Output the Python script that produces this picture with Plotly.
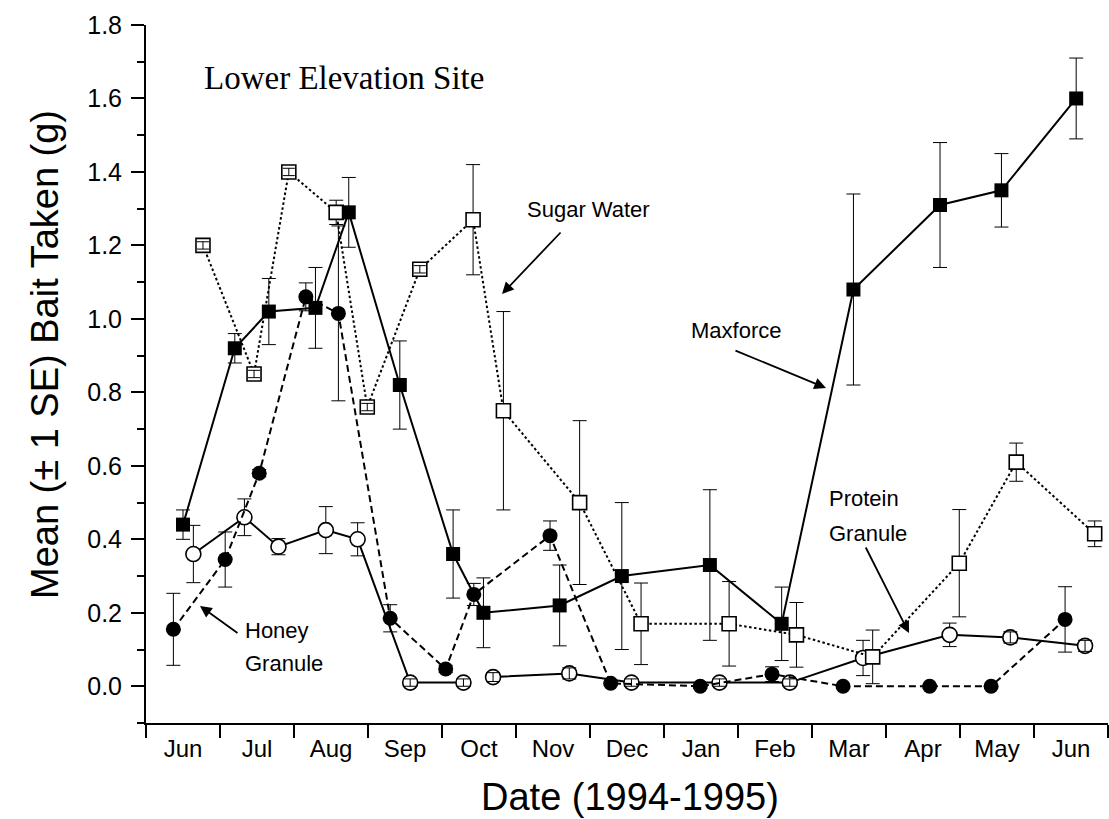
import plotly.graph_objects as go

# ---------------- data (x = months elapsed since 1 June 1994) ----------------
months = ["Jun", "Jul", "Aug", "Sep", "Oct", "Nov", "Dec", "Jan", "Feb", "Mar", "Apr", "May", "Jun"]

maxforce_x = [0.50, 1.20, 1.66, 2.29, 2.74, 3.43, 4.15, 4.56, 5.59, 6.43, 7.62, 8.59, 9.56, 10.73, 11.56, 12.57]
maxforce_y = [0.44, 0.92, 1.02, 1.03, 1.29, 0.82, 0.36, 0.20, 0.22, 0.30, 0.33, 0.17, 1.08, 1.31, 1.35, 1.60]
maxforce_se = [0.04, 0.04, 0.09, 0.11, 0.095, 0.12, 0.12, 0.095, 0.11, 0.20, 0.205, 0.10, 0.26, 0.17, 0.10, 0.11]

sugar_x = [0.77, 1.46, 1.93, 2.57, 2.99, 3.70, 4.42, 4.83, 5.86, 6.69, 7.88, 8.79, 9.82, 10.99, 11.76, 12.82]
sugar_y = [1.20, 0.85, 1.40, 1.29, 0.76, 1.135, 1.27, 0.75, 0.50, 0.17, 0.17, 0.14, 0.08, 0.335, 0.61, 0.415]
sugar_se = [0.01, 0.01, 0.01, 0.033, 0.01, 0.01, 0.15, 0.27, 0.223, 0.111, 0.115, 0.088, 0.073, 0.146, 0.052, 0.035]

honey_x = [0.37, 1.07, 1.53, 2.16, 2.60, 3.30, 4.05, 4.43, 5.46, 6.28, 7.49, 8.46, 9.42, 10.59, 11.42, 12.42]
honey_y = [0.155, 0.345, 0.58, 1.06, 1.015, 0.185, 0.047, 0.25, 0.41, 0.008, 0.0, 0.033, 0.0, 0.0, 0.0, 0.182]
honey_se = [0.098, 0.075, 0.01, 0.038, 0.238, 0.037, 0.01, 0.03, 0.04, 0.005, 0.005, 0.02, 0.005, 0.005, 0.005, 0.089]

protein_x = [0.64, 1.33, 1.79, 2.43, 2.86, 3.57, 4.29, 4.69, 5.72, 6.56, 7.75, 8.70, 9.69, 10.86, 11.68, 12.69]
protein_y = [0.36, 0.46, 0.38, 0.425, 0.40, 0.01, 0.01, 0.025, 0.035, 0.01, 0.01, 0.01, 0.077, 0.14, 0.133, 0.11]
protein_se = [0.078, 0.05, 0.022, 0.064, 0.045, 0.01, 0.01, 0.012, 0.015, 0.01, 0.01, 0.01, 0.048, 0.032, 0.015, 0.015]
protein_break = 7  # the protein-granule line is interrupted before this sample

# ---------------- layout geometry ----------------
W, H = 1109, 819
ML, MR, MT, MB = 146, 1, 25, 96
X0, X1 = 0, 13
Y0, Y1 = -0.1, 1.8
PW, PH = W - ML - MR, H - MT - MB


def dx(px):  # pixel -> data x
    return X0 + (px - ML) / PW * (X1 - X0)


def dy(py):  # pixel -> data y
    return Y0 + (H - MB - py) / PH * (Y1 - Y0)


def paper_x(px):
    return (px - ML) / PW


def paper_y(py):
    return (H - MB - py) / PH


SANS = "Liberation Sans, Arial, sans-serif"
SERIF = "Liberation Serif, Times New Roman, serif"

fig = go.Figure()


def err(arr, width=7):
    return dict(type="data", array=arr, visible=True, color="black", thickness=1, width=width)


def small_err_overlay(xs, ys, es, thr=0.02):
    idx = [i for i, e in enumerate(es) if e < thr]
    fig.add_trace(go.Scatter(
        x=[xs[i] for i in idx], y=[ys[i] for i in idx], mode="markers",
        marker=dict(size=1, opacity=0),
        error_y=err([es[i] for i in idx], width=6),
        showlegend=False, hoverinfo="skip"))


# Protein granule: open circles, solid line (two segments)
for sl in (slice(0, protein_break), slice(protein_break, None)):
    fig.add_trace(go.Scatter(
        x=protein_x[sl], y=protein_y[sl], mode="lines+markers", name="Protein Granule",
        line=dict(color="black", width=2),
        marker=dict(symbol="circle", size=15, color="white", line=dict(color="black", width=1.6)),
        error_y=err(protein_se[sl]), showlegend=False))
small_err_overlay(protein_x, protein_y, protein_se)

# Honey granule: filled circles, dashed line
fig.add_trace(go.Scatter(
    x=honey_x, y=honey_y, mode="lines+markers", name="Honey Granule",
    line=dict(color="black", width=2, dash="7px,4px"),
    marker=dict(symbol="circle", size=15, color="black"),
    error_y=err(honey_se), showlegend=False))

# Sugar water: open squares, dotted line
fig.add_trace(go.Scatter(
    x=sugar_x, y=sugar_y, mode="lines+markers", name="Sugar Water",
    line=dict(color="black", width=2, dash="2.5px,2.5px"),
    marker=dict(symbol="square", size=14, color="white", line=dict(color="black", width=1.6)),
    error_y=err(sugar_se), showlegend=False))
small_err_overlay(sugar_x, sugar_y, sugar_se)

# Maxforce: filled squares, solid line
fig.add_trace(go.Scatter(
    x=maxforce_x, y=maxforce_y, mode="lines+markers", name="Maxforce",
    line=dict(color="black", width=2),
    marker=dict(symbol="square", size=14, color="black"),
    error_y=err(maxforce_se), showlegend=False))

annotations = []


def label(text, px, py, size=22, font=SANS, xanchor="center"):
    annotations.append(dict(text=text, x=dx(px), y=dy(py), xref="x", yref="y",
                            xanchor=xanchor, yanchor="middle", showarrow=False,
                            font=dict(family=font, size=size, color="black")))


def arrow(tail, head):
    annotations.append(dict(text="", x=dx(head[0]), y=dy(head[1]), ax=dx(tail[0]), ay=dy(tail[1]),
                            xref="x", yref="y", axref="x", ayref="y", showarrow=True,
                            arrowhead=2, arrowsize=1.3, arrowwidth=1.8, arrowcolor="black"))


label("Lower Elevation Site", 202, 78, size=33, font=SERIF, xanchor="left")
label("Sugar Water", 588, 209)
arrow((562, 231), (502, 294))
label("Maxforce", 736, 330)
arrow((734, 350), (826, 388))
label("Protein", 827, 498, xanchor="left")
label("Granule", 827, 533, xanchor="left")
arrow((865, 546), (909, 633))
label("Honey", 243, 630, xanchor="left")
label("Granule", 243, 663, xanchor="left")
arrow((239, 634), (200, 606))

# axis titles
annotations.append(dict(text="Mean (\u00b1 1 SE) Bait Taken (g)", x=paper_x(45), y=paper_y(355),
                        xref="paper", yref="paper", textangle=-90, showarrow=False,
                        xanchor="center", yanchor="middle",
                        font=dict(family=SANS, size=38, color="black")))
annotations.append(dict(text="Date (1994-1995)", x=paper_x(630), y=paper_y(797),
                        xref="paper", yref="paper", showarrow=False,
                        xanchor="center", yanchor="middle",
                        font=dict(family=SANS, size=38, color="black")))

fig.update_layout(
    width=W, height=H,
    margin=dict(l=ML, r=MR, t=MT, b=MB, pad=0),
    paper_bgcolor="white", plot_bgcolor="white",
    font=dict(family=SANS, color="black"),
    annotations=annotations,
    xaxis=dict(
        range=[X0, X1], showgrid=False, zeroline=False,
        showline=True, linecolor="black", linewidth=2,
        tickmode="array", tickvals=[i + 0.5 for i in range(len(months))], ticktext=months,
        ticks="outside", ticklen=3, tickcolor="rgba(0,0,0,0)",
        tickfont=dict(family=SANS, size=24, color="black"),
        minor=dict(tickmode="array", tickvals=list(range(len(months) + 1)),
                   ticks="outside", ticklen=13, tickwidth=2, tickcolor="black", showgrid=False),
    ),
    yaxis=dict(
        range=[Y0, Y1], showgrid=False, zeroline=False,
        showline=True, linecolor="black", linewidth=2,
        tick0=0, dtick=0.2, tickformat=".1f",
        ticks="outside", ticklen=13, tickwidth=2, tickcolor="black",
        tickfont=dict(family=SANS, size=25, color="black"),
        ticklabelstandoff=4,
        minor=dict(tick0=0, dtick=0.1, ticks="outside", ticklen=7, tickwidth=2,
                   tickcolor="black", showgrid=False),
    ),
)

fig.write_html("out.html", config={"displayModeBar": False},
               post_script="document.body.style.margin='0';")
